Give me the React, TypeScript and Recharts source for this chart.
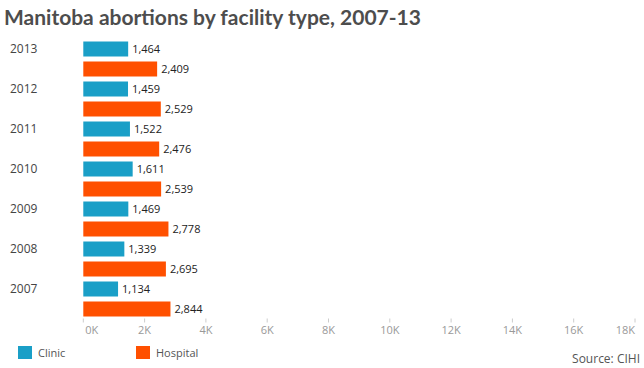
import { BarChart, Bar, XAxis, YAxis, LabelList } from "recharts";

const YEARS = ["2013", "2012", "2011", "2010", "2009", "2008", "2007"];
const CLINIC = [1464, 1459, 1522, 1611, 1469, 1339, 1134];
const HOSPITAL = [2409, 2529, 2476, 2539, 2778, 2695, 2844];
const X_TICKS = [0, 2000, 4000, 6000, 8000, 10000, 12000, 14000, 16000, 18000];

const SERIES = [
  { key: "clinic", name: "Clinic", color: "#1A9FC7" },
  { key: "hospital", name: "Hospital", color: "#FF5000" },
];

const DATA = YEARS.map((year, i) => ({ year, clinic: CLINIC[i], hospital: HOSPITAL[i] }));

const FONT = "'Open Sans', 'DejaVu Sans', sans-serif";

const YearTick = (props: any) => {
  const { y, payload } = props;
  return (
    <text x={10} y={y - 10} dy={4} fontSize={12} fill="#444" fontFamily={FONT}>
      {payload.value}
    </text>
  );
};

const KTick = (props: any) => {
  const { x, y, payload, index } = props;
  const anchor = index === 0 ? "start" : index === X_TICKS.length - 1 ? "end" : "middle";
  return (
    <text x={index === 0 ? x + 2 : x} y={y} dy={9} fontSize={11} fill="#999" textAnchor={anchor} fontFamily={FONT}>
      {payload.value / 1000}K
    </text>
  );
};

export default function App() {
  return (
    <div style={{ position: "fixed", left: 0, top: 0, width: 644, height: 368, background: "#fff", fontFamily: FONT }}>
      <div style={{ position: "absolute", left: 4, top: 4, fontSize: 21, fontWeight: 700, color: "#4d4d4d", whiteSpace: "nowrap", fontFamily: "Lato, sans-serif" }}>
        Manitoba abortions by facility type, 2007-13
      </div>
      <BarChart
        width={644}
        height={368}
        data={DATA}
        layout="vertical"
        barSize={15}
        barGap={5}
        margin={{ top: 38.5, right: 9, bottom: 29.5, left: 0 }}
      >
        <XAxis
          type="number"
          domain={[0, 18000]}
          ticks={X_TICKS}
          axisLine={false}
          tickLine={{ stroke: "#ccc" }}
          tickSize={4}
          tickMargin={2}
          height={20}
          tick={<KTick />}
          interval={0}
        />
        <YAxis type="category" dataKey="year" width={83.3} axisLine={false} tickLine={false} tick={<YearTick />} />
        {SERIES.map((s) => (
          <Bar key={s.key} dataKey={s.key} name={s.name} fill={s.color} isAnimationActive={false}>
            <LabelList
              dataKey={s.key}
              position="right"
              offset={4}
              formatter={(v: any) => Number(v).toLocaleString("en-US")}
              style={{ fontSize: 11, fill: "#222", fontFamily: FONT }}
            />
          </Bar>
        ))}
      </BarChart>
      {SERIES.map((s, i) => (
        <div key={s.key} style={{ position: "absolute", left: 18 + i * 118, top: 345, display: "flex", alignItems: "center" }}>
          <div style={{ width: 14, height: 13, background: s.color, marginRight: 6 }} />
          <span style={{ fontSize: 11, color: "#555" }}>{s.name}</span>
        </div>
      ))}
      <div style={{ position: "absolute", right: 4, top: 350, fontSize: 12, color: "#555" }}>Source: CIHI</div>
    </div>
  );
}
